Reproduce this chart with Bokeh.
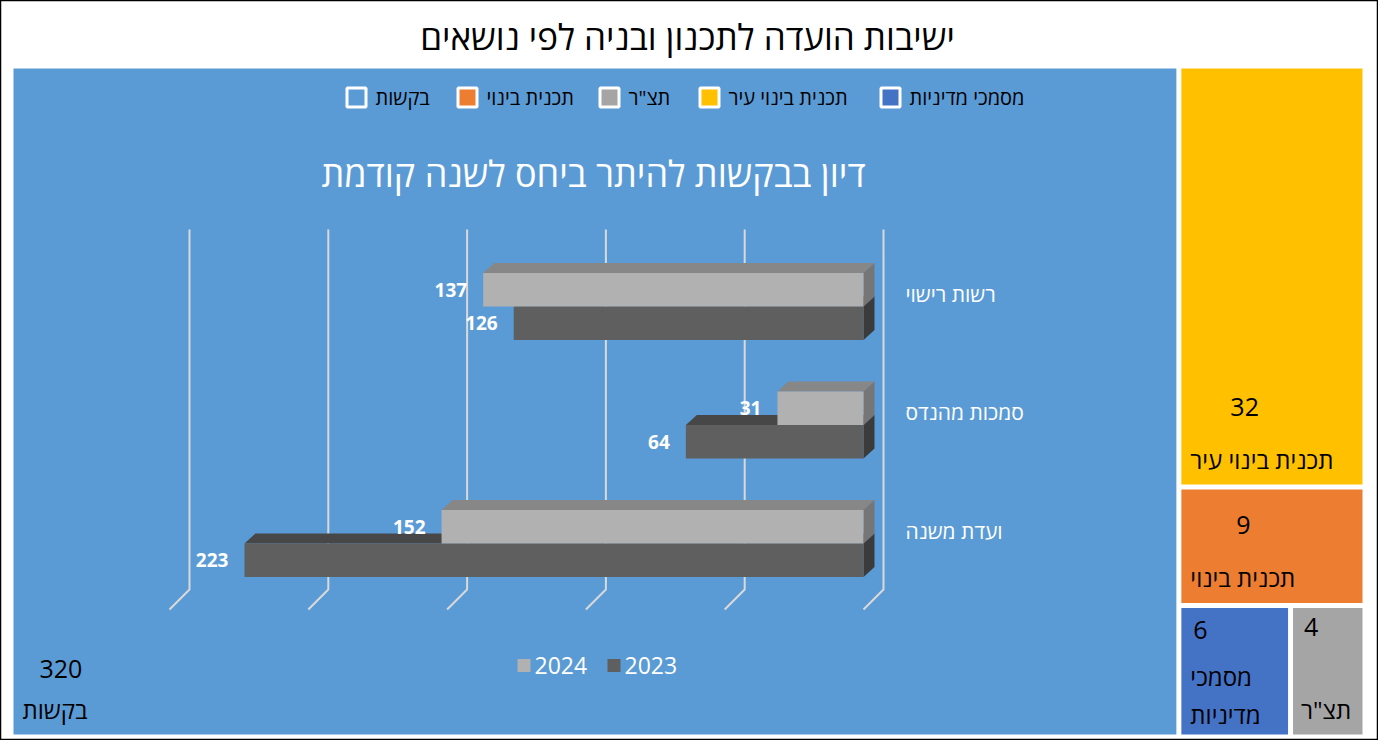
from bokeh.plotting import figure
from bokeh.models import Range1d
from bokeh.core.properties import value
from bokeh.embed import file_html
from bokeh.resources import INLINE

# ---------------- data ----------------
main_title = "ישיבות הועדה לתכנון ובניה לפי נושאים"
tm_labels = ["בקשות", "תכנית בינוי עיר", "תכנית בינוי", "מסמכי מדיניות", "תצ\"ר"]
tm_values = [320, 32, 9, 6, 4]
tm_colors = ["#5b9bd5", "#ffc000", "#ed7d31", "#4472c4", "#a5a5a5"]
legend_labels = ["בקשות", "תכנית בינוי", "תצ\"ר", "תכנית בינוי עיר", "מסמכי מדיניות"]
legend_colors = ["#5b9bd5", "#ed7d31", "#a5a5a5", "#ffc000", "#4472c4"]

bar_title = "דיון בבקשות להיתר ביחס לשנה קודמת"
categories = ["רשות רישוי", "סמכות מהנדס", "ועדת משנה"]
years = ["2024", "2023"]
vals_2024 = [137, 31, 152]
vals_2023 = [126, 64, 223]
grid_ticks = [0, 50, 100, 150, 200, 250]

HEB = value("Open Sans")
NUM = value("Open Sans")

# ---------------- figure (screen-like coordinates) ----------------
W, H = 1378, 740
p = figure(width=W, height=H, x_range=Range1d(8, 8 + W), y_range=Range1d(8 + H, 8),
           output_backend="svg", toolbar_location=None, min_border=0,
           x_axis_type=None, y_axis_type=None)
p.grid.visible = False
p.outline_line_color = "black"
p.outline_line_width = 1.5
p.background_fill_color = "white"
p.border_fill_color = "white"

# ---------------- treemap layout ----------------
X0, X1, Y0, Y1 = 18.5, 1372.5, 73.5, 744.5
gap = 2.5
total = sum(tm_values)
rest = sum(tm_values[1:])
xa = X0 + (X1 - X0) * tm_values[0] / total
ya = Y0 + (Y1 - Y0) * tm_values[1] / rest
yb = ya + (Y1 - Y0) * tm_values[2] / rest
xb = xa + (X1 - xa) * tm_values[3] / (tm_values[3] + tm_values[4])
cells = [(X0, xa, Y0, Y1), (xa, X1, Y0, ya), (xa, X1, ya, yb), (xa, xb, yb, Y1), (xb, X1, yb, Y1)]
lefts = [c[0] + gap for c in cells]
rights = [c[1] - gap for c in cells]
tops = [c[2] + gap for c in cells]
bottoms = [c[3] - gap for c in cells]
p.quad(left=lefts, right=rights, top=tops, bottom=bottoms, fill_color=tm_colors,
       line_color=None)

# treemap labels
name_txt = [lab if (r - l) > 150 else lab.replace(" ", "\n") for lab, l, r in zip(tm_labels, lefts, rights)]
name_x = [l + 9 for l in lefts]
name_x[4] = lefts[4] + 8
name_y = [b - 25 for b in bottoms]
name_y[3] = bottoms[3] - 39
p.text(x=name_x, y=name_y, text=name_txt, text_font=HEB, text_font_size="24px",
       text_color="black", text_align="left", text_baseline="middle", text_line_height=1.15)
val_x = [lefts[0] + 26, lefts[1] + 49, lefts[2] + 55, lefts[3] + 12, lefts[4] + 11]
val_y = [bottoms[0] - 66, bottoms[1] - 78, bottoms[2] - 78, tops[3] + 22, tops[4] + 19]
p.text(x=val_x, y=val_y, text=[str(v) for v in tm_values], text_font=NUM,
       text_font_size="25px", text_color="black", text_align="left", text_baseline="middle")

# title
p.text(x=[695], y=[44], text=[main_title], text_font=HEB, text_font_size="35px",
       text_color="black", text_align="center", text_baseline="middle")

# treemap legend
leg_sq_x = [364, 475, 617, 717, 898]
p.scatter(x=leg_sq_x, y=[105] * 5, marker="square", size=19, fill_color=legend_colors,
          line_color="white", line_width=3)
p.text(x=[x + 19 for x in leg_sq_x], y=[105] * 5, text=legend_labels, text_font=HEB,
       text_font_size="20px", text_color="black", text_align="left", text_baseline="middle")

# ---------------- embedded 3D bar chart ----------------
S = 2.776          # px per unit
X_ZERO = 871       # screen x of value 0 (front plane)
Y_CAT0 = 314       # screen y of first category centre
CAT_STEP = 118.5
p.extra_x_ranges = {"val": Range1d((X_ZERO - 8) / S, (X_ZERO - (8 + W)) / S)}
p.extra_y_ranges = {"cat": Range1d((8 + H - Y_CAT0) / CAT_STEP, (8 - Y_CAT0) / CAT_STEP)}
R = dict(x_range_name="val", y_range_name="cat")

bh = 33.5 / CAT_STEP
dv = -11 / S
di = -10 / CAT_STEP
dvb = -20 / S
g_top = (237 - Y_CAT0) / CAT_STEP
g_bot = (597 - Y_CAT0) / CAT_STEP
g_front = (617 - Y_CAT0) / CAT_STEP

p.multi_line(xs=[[t + dvb, t + dvb, t] for t in grid_ticks],
             ys=[[g_top, g_bot, g_front] for _ in grid_ticks],
             line_color="#d9d9d9", line_width=2, **R)

# subtitle
p.text(x=[601], y=[181], text=[bar_title], text_font=HEB, text_font_size="36px",
       text_color="white", text_align="center", text_baseline="middle")

idx = list(range(len(categories)))
series = [
    (vals_2023, +bh / 2, "#5f5f5f", "#474747", "#3b3b3b"),
    (vals_2024, -bh / 2, "#b1b1b1", "#878787", "#767676"),
]
for vals, off, cf, ct, cs in series:
    centres = [i + off for i in idx]
    tops_i = [c - bh / 2 for c in centres]
    p.patches(xs=[[v, 0, dv, v + dv] for v in vals],
              ys=[[t, t, t + di, t + di] for t in tops_i],
              fill_color=ct, line_color=None, **R)
    p.patches(xs=[[0, 0, dv, dv] for _ in vals],
              ys=[[t, t + bh, t + bh + di, t + di] for t in tops_i],
              fill_color=cs, line_color=None, **R)
    p.hbar(y=centres, left=0, right=vals, height=bh, fill_color=cf, line_color=None, **R)
    p.text(x=vals, y=centres, text=[str(v) for v in vals], x_offset=-16,
           text_font=NUM, text_font_size="19px", text_font_style="bold",
           text_color="white", text_align="right", text_baseline="middle", **R)

# category labels
p.text(x=[0] * len(categories), y=idx, text=categories, x_offset=42, y_offset=-13,
       text_font=HEB, text_font_size="21px", text_color="white",
       text_align="left", text_baseline="middle", **R)

# bar legend
p.scatter(x=[531.5, 621.5], y=[673, 673], marker="square", size=13,
          fill_color=["#b1b1b1", "#5f5f5f"], line_color=None)
p.text(x=[542, 632], y=[673, 673], text=years, text_font=NUM, text_font_size="23px",
       text_color="white", text_align="left", text_baseline="middle")

open("out.html", "w").write(file_html(p, INLINE))
